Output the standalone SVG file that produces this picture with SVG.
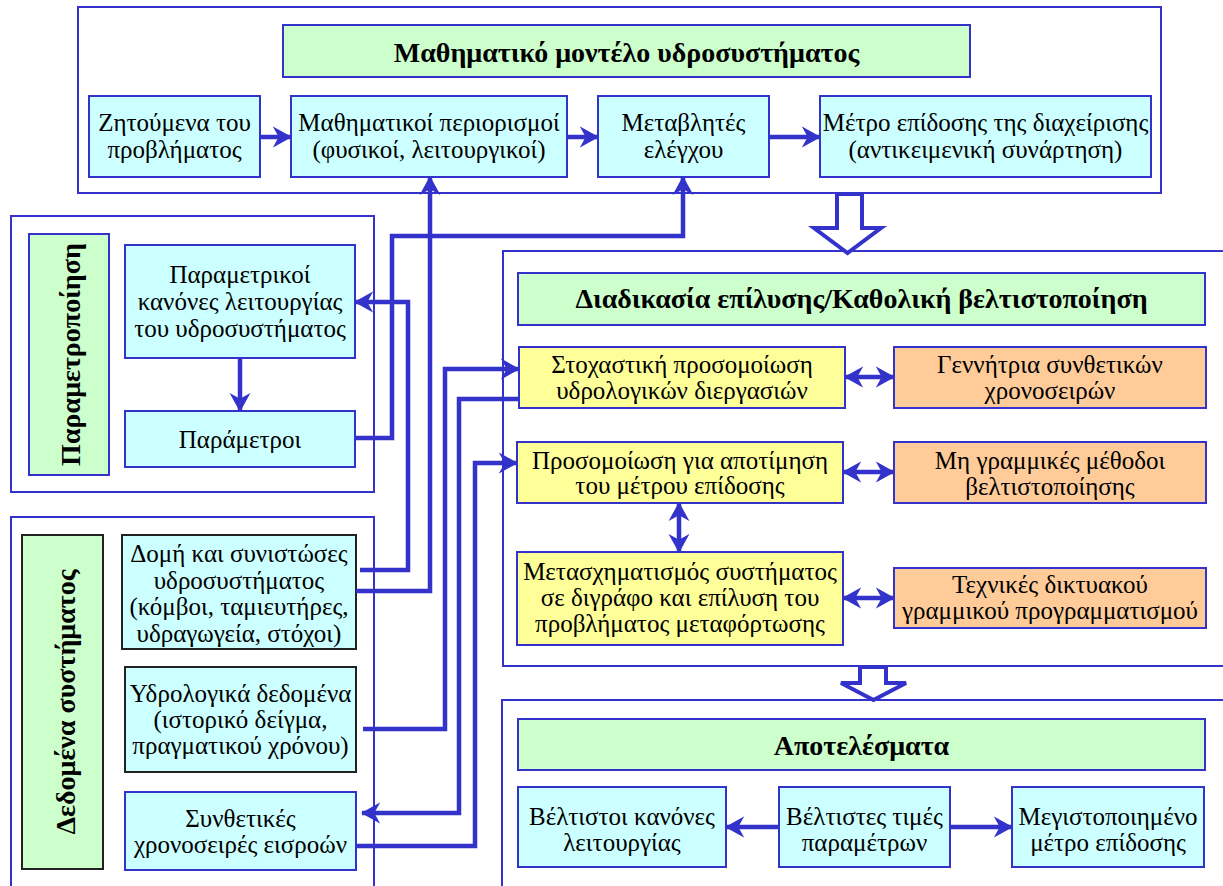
<svg xmlns="http://www.w3.org/2000/svg" width="1223" height="886" viewBox="0 0 1223 886">
<style>
text{font-family:"Liberation Serif","Times New Roman","DejaVu Serif",serif;font-size:25px;fill:#000;text-anchor:middle}
.t{font-weight:bold;font-size:28px}
.frame{fill:#fff;stroke:#3333CC;stroke-width:2}
.cy{fill:#CCFFFF;stroke:#3333CC;stroke-width:2}
.cyk{fill:#CCFFFF;stroke:#222;stroke-width:2}
.gr{fill:#CCFFCC;stroke:#3333CC;stroke-width:2}
.grk{fill:#CCFFCC;stroke:#222;stroke-width:2}
.ye{fill:#FFFF99;stroke:#3333CC;stroke-width:2}
.or{fill:#FFCC99;stroke:#3333CC;stroke-width:2}
.c{fill:none;stroke:#3333CC;stroke-width:4.5}
.a{marker-end:url(#ah)}
.d{marker-start:url(#ah);marker-end:url(#ah)}
.hollow{fill:#fff;stroke:#3333CC;stroke-width:4}
</style>
<defs>
<marker id="ah" viewBox="0 0 20 22" markerWidth="19" markerHeight="22" refX="19" refY="11" orient="auto-start-reverse" markerUnits="userSpaceOnUse">
<path d="M0,0 L20,11 L0,22 L6,11 Z" fill="#3333CC"/>
</marker>
</defs>

<g id="frames">
<rect class="frame" x="78" y="7" width="1083" height="186"/>
<rect class="frame" x="11" y="216" width="363" height="276"/>
<rect class="frame" x="11" y="517" width="363" height="380"/>
<rect class="frame" x="503" y="251" width="730" height="415"/>
<rect class="frame" x="502" y="700" width="730" height="200"/>
</g>

<g id="title-model"><rect class="gr" x="283" y="25" width="687" height="52"/><text class="t" x="626.5" y="62">Μαθηματικό μοντέλο υδροσυστήματος</text></g>
<g id="zitoumena"><rect class="cy" x="89" y="96" width="171" height="81"/><text x="174.5" y="131">Ζητούμενα του</text><text x="174.5" y="158">προβλήματος</text></g>
<g id="periorismoi"><rect class="cy" x="291" y="96" width="276" height="81"/><text x="429" y="131">Μαθηματικοί περιορισμοί</text><text x="429" y="158">(φυσικοί, λειτουργικοί)</text></g>
<g id="metavlites"><rect class="cy" x="598" y="96" width="171" height="81"/><text x="683.5" y="131">Μεταβλητές</text><text x="683.5" y="158">ελέγχου</text></g>
<g id="metro"><rect class="cy" x="820" y="96" width="331" height="81"/><text x="985.5" y="131">Μέτρο επίδοσης της διαχείρισης</text><text x="985.5" y="158">(αντικειμενική συνάρτηση)</text></g>

<g id="title-param"><rect class="gr" x="29" y="234" width="80" height="241"/><text class="t" transform="translate(71,354.5) rotate(-90)" y="9">Παραμετροποίηση</text></g>
<g id="kanones"><rect class="cy" x="125" y="245" width="230" height="113"/><text x="240" y="283">Παραμετρικοί</text><text x="240" y="310">κανόνες λειτουργίας</text><text x="240" y="337">του υδροσυστήματος</text></g>
<g id="parametroi"><rect class="cy" x="125" y="411" width="230" height="56"/><text x="240" y="448">Παράμετροι</text></g>

<g id="title-data"><rect class="grk" x="22" y="535" width="81" height="334"/><text class="t" transform="translate(66,702) rotate(-90)" y="9">Δεδομένα συστήματος</text></g>
<g id="domi"><rect class="cyk" x="122" y="535" width="234" height="114"/><text x="239" y="562">Δομή και συνιστώσες</text><text x="239" y="588.5">υδροσυστήματος</text><text x="239" y="615">(κόμβοι, ταμιευτήρες,</text><text x="239" y="641.5">υδραγωγεία, στόχοι)</text></g>
<g id="ydrologika"><rect class="cyk" x="125" y="667" width="231" height="105"/><text x="240.5" y="702">Υδρολογικά δεδομένα</text><text x="240.5" y="728">(ιστορικό δείγμα,</text><text x="240.5" y="754">πραγματικού χρόνου)</text></g>
<g id="synthetikes"><rect class="cy" x="125" y="792" width="231" height="78"/><text x="240.5" y="827">Συνθετικές</text><text x="240.5" y="853">χρονοσειρές εισροών</text></g>

<g id="title-solve"><rect class="gr" x="518" y="273" width="687" height="52"/><text class="t" x="861.5" y="308">Διαδικασία επίλυσης/Καθολική βελτιστοποίηση</text></g>
<g id="stochastiki"><rect class="ye" x="519" y="347" width="326" height="61"/><text x="682" y="373">Στοχαστική προσομοίωση</text><text x="682" y="399">υδρολογικών διεργασιών</text></g>
<g id="gennitria"><rect class="or" x="894" y="347" width="312" height="61"/><text x="1050" y="373">Γεννήτρια συνθετικών</text><text x="1050" y="399">χρονοσειρών</text></g>
<g id="prosomoiosi"><rect class="ye" x="517" y="442" width="326" height="61"/><text x="680" y="469">Προσομοίωση για αποτίμηση</text><text x="680" y="494">του μέτρου επίδοσης</text></g>
<g id="mi-grammikes"><rect class="or" x="894" y="442" width="312" height="61"/><text x="1050" y="469">Μη γραμμικές μέθοδοι</text><text x="1050" y="495">βελτιστοποίησης</text></g>
<g id="metaschimatismos"><rect class="ye" x="517" y="552" width="326" height="93"/><text x="680" y="580">Μετασχηματισμός συστήματος</text><text x="680" y="606">σε διγράφο και επίλυση του</text><text x="680" y="632">προβλήματος μεταφόρτωσης</text></g>
<g id="technikes"><rect class="or" x="894" y="568" width="312" height="60"/><text x="1050" y="593">Τεχνικές δικτυακού</text><text x="1050" y="619">γραμμικού προγραμματισμού</text></g>

<g id="title-results"><rect class="gr" x="518" y="719" width="687" height="51"/><text class="t" x="861.5" y="755">Αποτελέσματα</text></g>
<g id="veltistoi"><rect class="cy" x="518" y="787" width="208" height="80"/><text x="622" y="825">Βέλτιστοι κανόνες</text><text x="622" y="851">λειτουργίας</text></g>
<g id="veltistes"><rect class="cy" x="779" y="787" width="171" height="80"/><text x="864.5" y="825">Βέλτιστες τιμές</text><text x="864.5" y="851">παραμέτρων</text></g>
<g id="megistopoiimeno"><rect class="cy" x="1012" y="787" width="192" height="80"/><text x="1108" y="825">Μεγιστοποιημένο</text><text x="1108" y="851">μέτρο επίδοσης</text></g>

<g id="connectors">
<path class="c a" d="M260,137 H291"/>
<path class="c a" d="M567,137 H598"/>
<path class="c a" d="M769,137 H820"/>
<path class="c a" d="M356,591 H430 V177"/>
<path class="c a" d="M360,570 H408 V302 H355"/>
<path class="c a" d="M355,438 H392 V236 H683 V177"/>
<path class="c a" d="M363,729 H445 V369 H519"/>
<path class="c a" d="M519,399 H459 V813 H362"/>
<path class="c a" d="M356,846 H475 V463 H517"/>
<path class="c a" d="M240,358 V411"/>
<path class="c d" d="M845,377 H894"/>
<path class="c d" d="M843,472 H894"/>
<path class="c d" d="M843,598 H894"/>
<path class="c d" d="M679,503 V552"/>
<path class="c a" d="M779,827 H726"/>
<path class="c a" d="M950,827 H1012"/>
<path class="hollow" d="M837,194 V228 H814 L847.5,253 L881,228 H862 V194 Z"/>
<path class="hollow" d="M860,667 V683 H841 L873.5,700 L906,683 H886 V667 Z"/>
</g>
</svg>
